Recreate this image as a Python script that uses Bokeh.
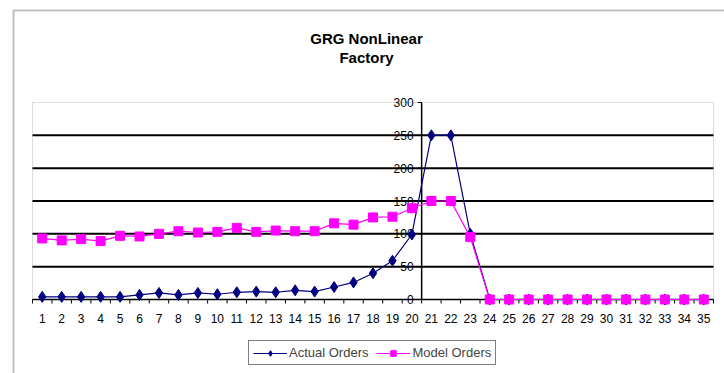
from bokeh.plotting import figure
from bokeh.models import (Range1d, Legend, LegendItem, Label, BoxAnnotation)
from bokeh.embed import file_html
from bokeh.resources import INLINE

# Order history per period
periods = list(range(1, 36))
actual_orders = [4, 4, 4, 4, 4, 7, 10, 7, 10, 8, 11, 12, 11, 14, 12, 19, 26, 40, 59, 99,
                 250, 250, 100, 0, 0, 0, 0, 0, 0, 0, 0, 0, 0, 0, 0]
model_orders = [93, 90, 92, 89, 97, 96, 100, 104, 102, 103, 109, 103, 105, 104, 104, 116, 114, 125, 126, 139,
                150, 150, 95, 0, 0, 0, 0, 0, 0, 0, 0, 0, 0, 0, 0]
x_labels = [str(d) for d in periods]
y_ticks = [0, 50, 100, 150, 200, 250, 300]
y_labels = [str(v) for v in y_ticks]
y_axis_cross = 20.5  # value axis sits between periods 20 and 21

# page geometry (pixels): the canvas is the whole chart area, the plot box sits inside it
W, H = 724, 373
PLOT_L, PLOT_R, PLOT_T, PLOT_B = 32, 713, 102, 299
X_LO, X_HI = 0.5, 35.5
Y_LO, Y_HI = 0, 300

sx = (PLOT_R - PLOT_L) / (X_HI - X_LO)
sy = (PLOT_B - PLOT_T) / (Y_HI - Y_LO)
x_range = Range1d(X_LO - PLOT_L / sx, X_HI + (W - PLOT_R) / sx)
y_range = Range1d(Y_LO - (H - PLOT_B) / sy, Y_HI + PLOT_T / sy)

FONT = "Liberation Sans"
NAVY = "#000080"
MAGENTA = "#FF00FF"

p = figure(width=W, height=H, x_range=x_range, y_range=y_range,
           output_backend="svg", toolbar_location=None,
           x_axis_location=None, y_axis_location=None, title=None, min_border=0)
p.center = []
p.background_fill_color = "white"
p.border_fill_color = "white"
p.outline_line_color = None

# chart-area frame (dark rule on the top and left)
p.add_layout(BoxAnnotation(left=13, right=W + 20, bottom=-20, top=H - 10,
                           left_units="screen", right_units="screen",
                           bottom_units="screen", top_units="screen",
                           fill_alpha=0, line_color="#333333", line_width=2))

# plot box with a grey border
p.add_layout(BoxAnnotation(left=X_LO, right=X_HI, bottom=Y_LO, top=Y_HI,
                           fill_color="white", fill_alpha=1,
                           line_color="#8c8c8c", line_width=1, level="underlay"))

# horizontal gridlines
grid_vals = y_ticks[1:-1]
p.segment(x0=[X_LO] * len(grid_vals), x1=[X_HI] * len(grid_vals), y0=grid_vals, y1=grid_vals,
          line_color="black", line_width=2)

# category axis along the bottom: ticks between periods, labels under each period
p.segment(x0=[X_LO], x1=[X_HI], y0=[Y_LO], y1=[Y_LO], line_color="black", line_width=1.5)
x_tick_pos = [d - 0.5 for d in periods] + [periods[-1] + 0.5]
p.ray(x=x_tick_pos, y=[Y_LO] * len(x_tick_pos), length=4, length_units="screen",
      angle=-90, angle_units="deg", line_color="black", line_width=1)
p.text(x=periods, y=[Y_LO] * len(periods), text=x_labels, y_offset=19,
       text_align="center", text_baseline="middle", text_font={"value": FONT},
       text_font_size="12px", text_color="black")

# value axis crossing between periods 20 and 21
p.segment(x0=[y_axis_cross], x1=[y_axis_cross], y0=[Y_LO], y1=[Y_HI], line_color="black", line_width=1.5)
p.ray(x=[y_axis_cross] * len(y_ticks), y=y_ticks, length=4, length_units="screen",
      angle=180, angle_units="deg", line_color="black", line_width=1)
p.text(x=[y_axis_cross] * len(y_ticks), y=y_ticks, text=y_labels, x_offset=-8,
       text_align="right", text_baseline="middle", text_font={"value": FONT},
       text_font_size="12px", text_color="black")

# series
l1 = p.line(periods, actual_orders, line_color=NAVY, line_width=1.2)
s1 = p.scatter(periods, actual_orders, marker="diamond", size=11, color=NAVY)
l2 = p.line(periods, model_orders, line_color=MAGENTA, line_width=1.2)
s2 = p.scatter(periods, model_orders, marker="square", size=9, color=MAGENTA)

lg = Legend(items=[LegendItem(label="Actual Orders", renderers=[l1, s1]),
                   LegendItem(label="Model Orders", renderers=[l2, s2])])
lg.orientation = "horizontal"
lg.location = (248, H - 365)
lg.border_line_color = "black"
lg.border_line_width = 1.5
lg.background_fill_color = "white"
lg.background_fill_alpha = 1
lg.label_text_font = FONT
lg.label_text_font_size = "13px"
lg.glyph_width = 34
lg.glyph_height = 14
lg.label_standoff = 2
lg.spacing = 8
lg.padding = 4
lg.margin = 0
lg.label_height = 14
p.add_layout(lg, "center")

# chart title, two lines
for txt, ypix in (("GRG NonLinear", 38), ("Factory", 57)):
    p.add_layout(Label(x=366, y=H - ypix, x_units="screen", y_units="screen", text=txt,
                       text_align="center", text_baseline="middle", text_font=FONT,
                       text_font_size="15px", text_font_style="bold", text_color="black"))

open("out.html", "w").write(file_html(p, INLINE))
